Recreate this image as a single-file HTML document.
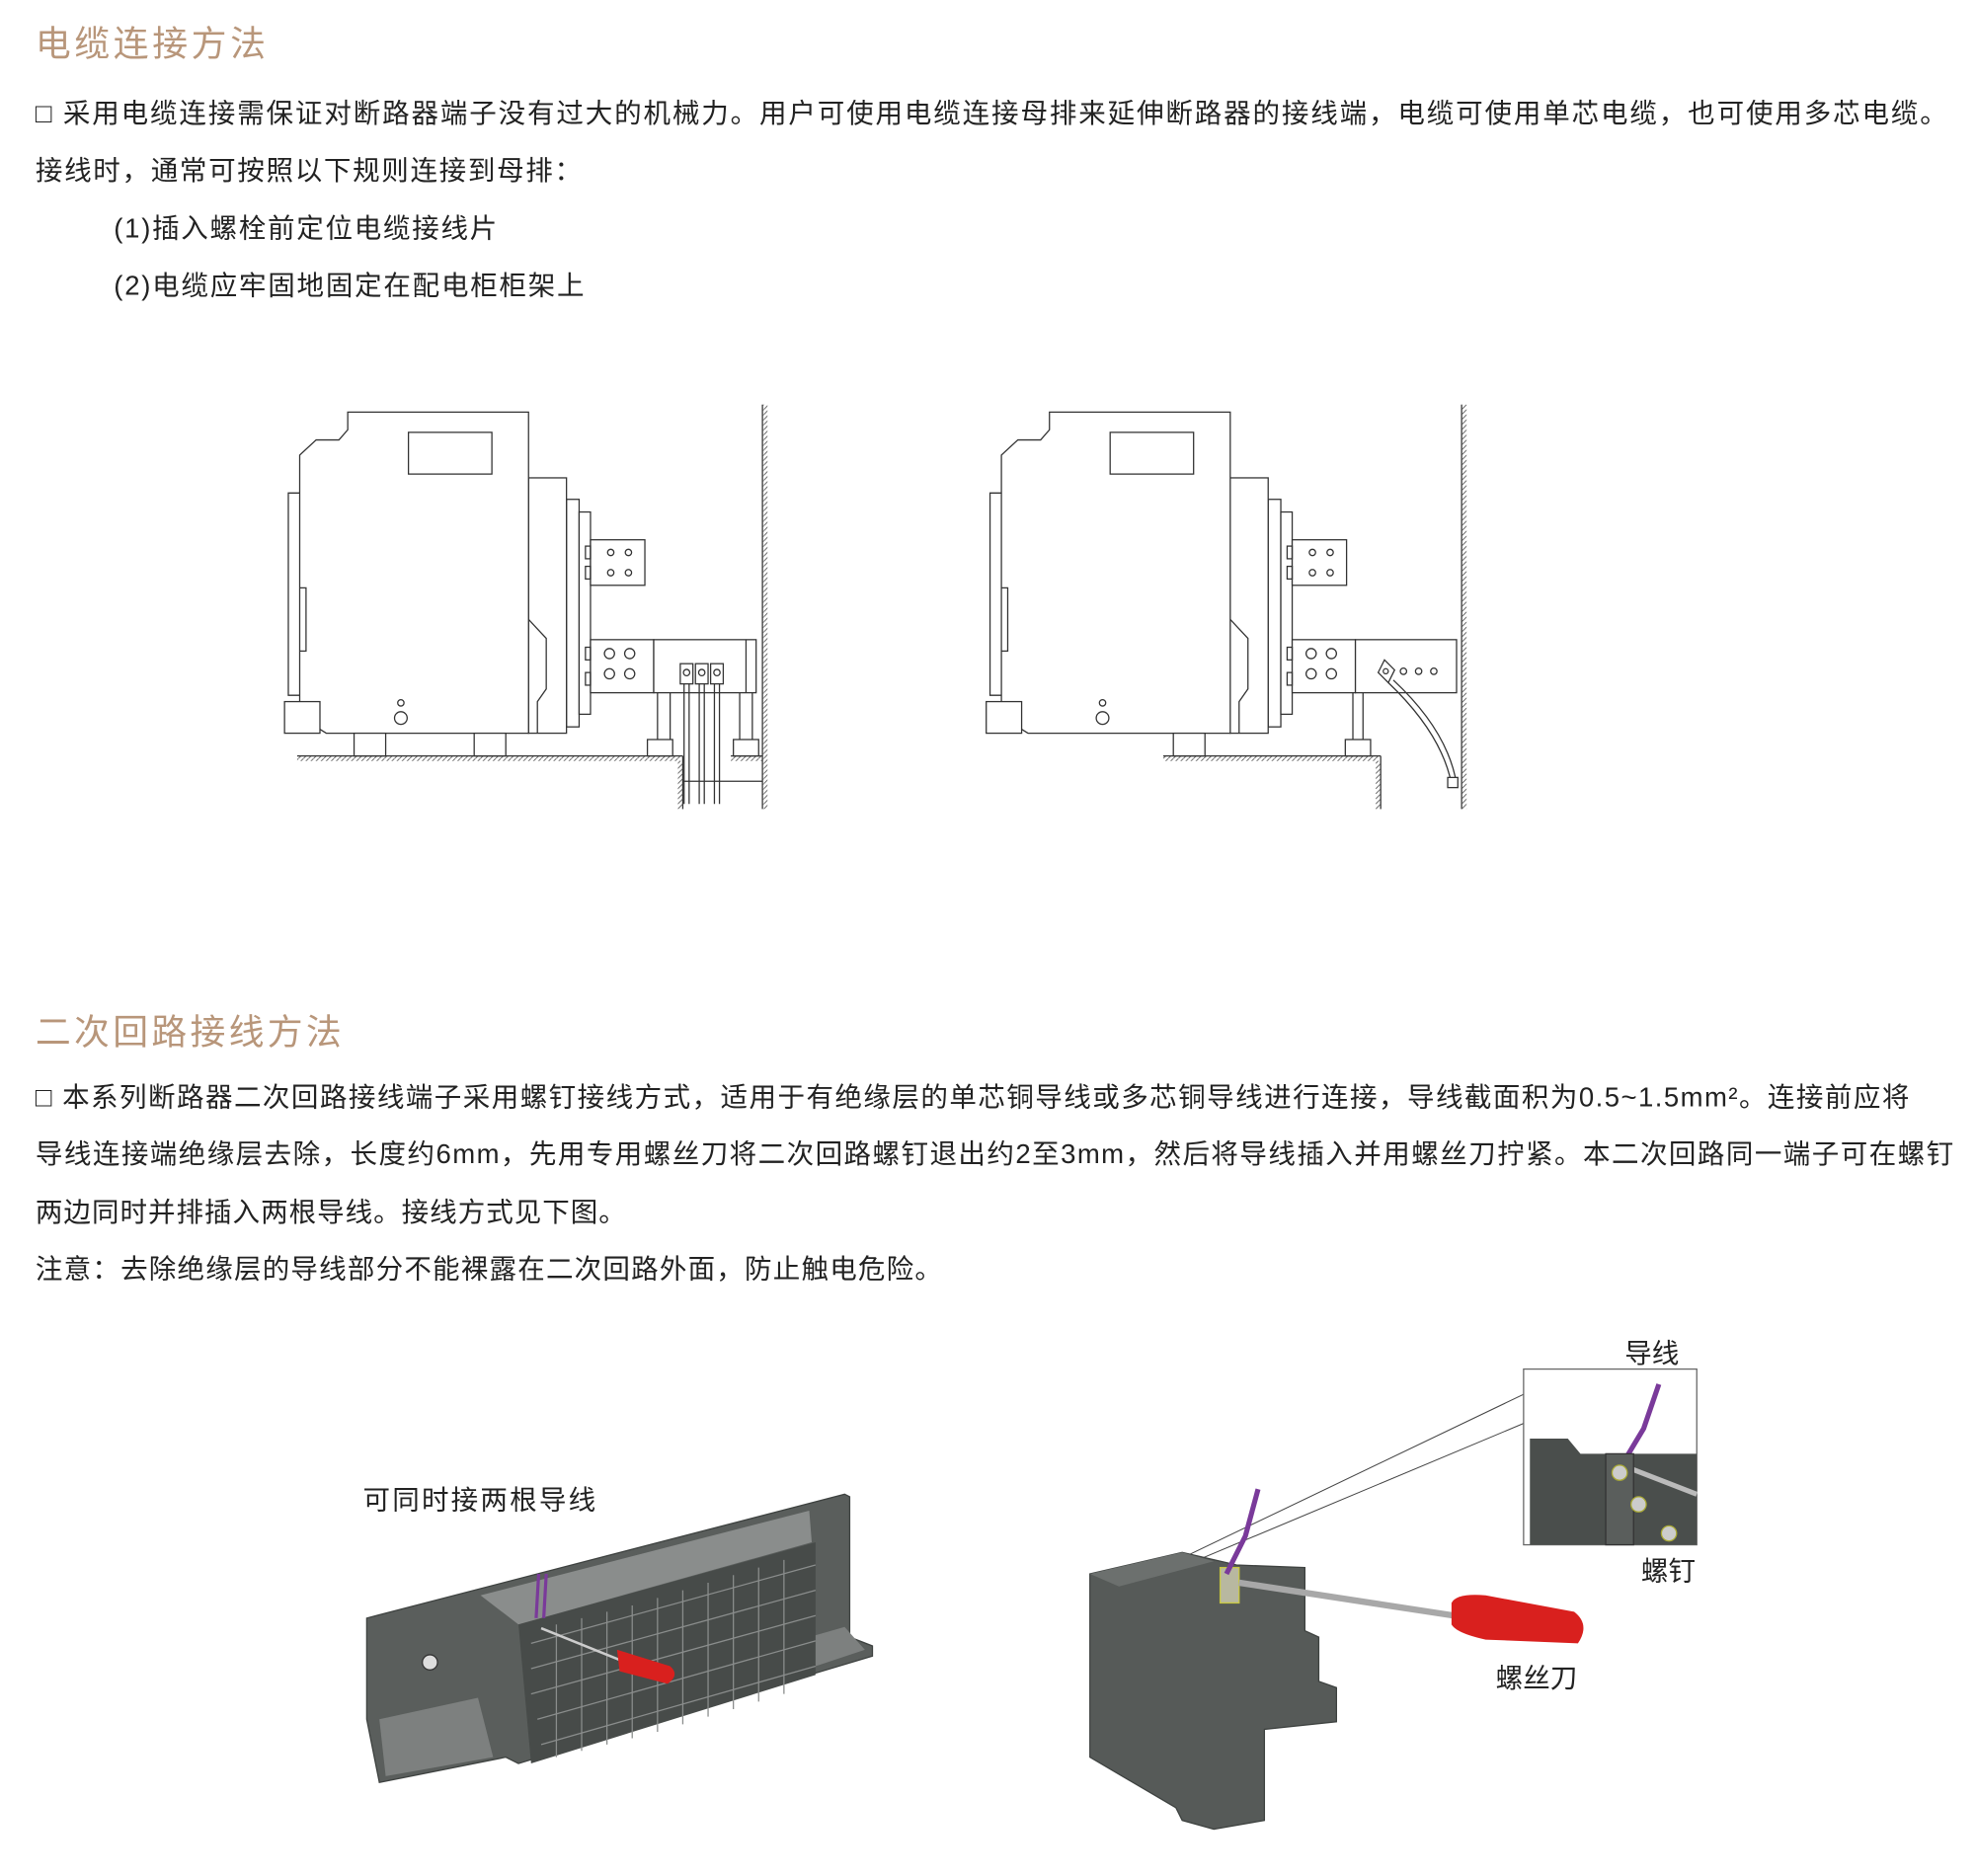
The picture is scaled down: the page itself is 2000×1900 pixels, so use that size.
<!DOCTYPE html>
<html><head><meta charset="utf-8"><style>
html,body{margin:0;padding:0;background:#fff;}
svg{display:block;}
text{font-family:"Liberation Sans","Noto Sans CJK SC",sans-serif;}
.t{fill:#222;font-size:21.5px;}
.h{fill:#b8967a;font-size:28px;}
.l{fill:none;stroke:#333;stroke-width:1;}
.lt{fill:#fff;stroke:#333;stroke-width:1;}
</style></head><body>
<svg width="2000" height="1900" viewBox="0 0 1562 1484" xmlns="http://www.w3.org/2000/svg">
<defs>
<pattern id="hat" width="4" height="4" patternUnits="userSpaceOnUse"><path d="M0 4L4 0" stroke="#555" stroke-width="0.7"/></pattern>
<g id="brk">
 <rect class="lt" x="448" y="395" width="10" height="180"/>
 <rect class="lt" x="458" y="405" width="9" height="160"/>
 <rect class="lt" x="418" y="378" width="30" height="202"/>
 <path class="lt" d="M275 326H418V580H258L250 575V555H237V360L250 348H268L275 340Z"/>
 <path class="l" d="M237 390H228V550H237M237 465H242V515H237"/>
 <path class="l" d="M418 490L432 505V545L425 555V580"/>
 <rect class="lt" x="323" y="342" width="66" height="33"/>
 <rect class="lt" x="225" y="555" width="28" height="25"/>
 <circle class="l" cx="317" cy="568" r="5"/><circle class="l" cx="317" cy="556" r="2.5"/>
 <rect class="lt" x="467" y="427" width="43" height="36"/>
 <circle class="l" cx="483" cy="437" r="2.5"/><circle class="l" cx="497" cy="437" r="2.5"/>
 <circle class="l" cx="483" cy="453" r="2.5"/><circle class="l" cx="497" cy="453" r="2.5"/>
 <rect class="lt" x="467" y="506" width="50" height="42"/>
 <circle class="l" cx="482" cy="517" r="4"/><circle class="l" cx="498" cy="517" r="4"/>
 <circle class="l" cx="482" cy="533" r="4"/><circle class="l" cx="498" cy="533" r="4"/>
 <rect class="l" x="463" y="512" width="4" height="10"/><rect class="l" x="463" y="532" width="4" height="10"/>
 <rect class="l" x="463" y="432" width="4" height="10"/><rect class="l" x="463" y="448" width="4" height="10"/>
</g>
</defs>

<text class="h" x="28" y="44" textLength="182">电缆连接方法</text>
<text class="t" x="28" y="97" textLength="1512">□ 采用电缆连接需保证对断路器端子没有过大的机械力。用户可使用电缆连接母排来延伸断路器的接线端，电缆可使用单芯电缆，也可使用多芯电缆。</text>
<text class="t" x="28" y="142" textLength="432">接线时，通常可按照以下规则连接到母排：</text>
<text class="t" x="90" y="188" textLength="303">(1)插入螺栓前定位电缆接线片</text>
<text class="t" x="90" y="233" textLength="372">(2)电缆应牢固地固定在配电柜柜架上</text>

<!-- left breaker -->
<use href="#brk"/>
<rect x="235" y="598" width="303" height="4" fill="url(#hat)"/>
<line class="l" x1="235" y1="598" x2="540" y2="598"/>
<line class="l" x1="540" y1="598" x2="540" y2="640"/>
<rect x="536" y="602" width="4" height="38" fill="url(#hat)"/>
<rect x="578" y="598" width="25" height="4" fill="url(#hat)"/>
<line class="l" x1="578" y1="598" x2="603" y2="598"/>
<line class="l" x1="603" y1="320" x2="603" y2="640"/>
<rect x="603" y="320" width="4" height="320" fill="url(#hat)"/>
<rect class="lt" x="517" y="506" width="81" height="42"/>
<line class="l" x1="590" y1="506" x2="590" y2="548"/>
<rect class="lt" x="280" y="580" width="25" height="18"/><rect class="lt" x="375" y="580" width="25" height="18"/>
<line class="l" x1="520" y1="548" x2="520" y2="585"/><line class="l" x1="530" y1="548" x2="530" y2="585"/>
<rect class="lt" x="512" y="585" width="20" height="13"/>
<line class="l" x1="585" y1="548" x2="585" y2="585"/><line class="l" x1="595" y1="548" x2="595" y2="585"/>
<rect class="lt" x="580" y="585" width="20" height="13"/>
<g class="l">
<rect x="538" y="525" width="10" height="16"/><rect x="550" y="525" width="10" height="16"/><rect x="562" y="525" width="10" height="16"/>
<circle cx="543" cy="532" r="2.5"/><circle cx="555" cy="532" r="2.5"/><circle cx="567" cy="532" r="2.5"/>
<path d="M541 541V636M545 541V636M553 541V636M557 541V636M565 541V636M569 541V636"/>
<line x1="540" y1="618" x2="603" y2="618"/>
</g>

<!-- right breaker -->
<use href="#brk" transform="translate(555,0)"/>
<rect x="920" y="598" width="170" height="4" fill="url(#hat)"/>
<line class="l" x1="920" y1="598" x2="1092" y2="598"/>
<line class="l" x1="1092" y1="598" x2="1092" y2="640"/>
<rect x="1088" y="602" width="4" height="38" fill="url(#hat)"/>
<line class="l" x1="1156" y1="320" x2="1156" y2="640"/>
<rect x="1156" y="320" width="4" height="320" fill="url(#hat)"/>
<rect class="lt" x="1072" y="506" width="80" height="42"/>
<rect class="lt" x="928" y="580" width="25" height="18"/>
<line class="l" x1="1070" y1="548" x2="1070" y2="585"/><line class="l" x1="1078" y1="548" x2="1078" y2="585"/>
<rect class="lt" x="1064" y="585" width="20" height="13"/>
<path class="l" d="M1095 522L1103 530L1098 540L1090 532Z"/>
<circle class="l" cx="1096" cy="531" r="2"/><circle class="l" cx="1110" cy="531" r="2.5"/><circle class="l" cx="1122" cy="531" r="2.5"/><circle class="l" cx="1134" cy="531" r="2.5"/>
<path class="l" d="M1098 540Q1140 580 1148 620M1102 538Q1145 578 1152 620"/>
<rect class="lt" x="1145" y="615" width="8" height="8"/>

<text class="h" x="28" y="826" textLength="242">二次回路接线方法</text>
<text class="t" x="28" y="875" textLength="1482">□ 本系列断路器二次回路接线端子采用螺钉接线方式，适用于有绝缘层的单芯铜导线或多芯铜导线进行连接，导线截面积为0.5~1.5mm²。连接前应将</text>
<text class="t" x="28" y="920" textLength="1517">导线连接端绝缘层去除，长度约6mm，先用专用螺丝刀将二次回路螺钉退出约2至3mm，然后将导线插入并用螺丝刀拧紧。本二次回路同一端子可在螺钉</text>
<text class="t" x="28" y="966" textLength="467">两边同时并排插入两根导线。接线方式见下图。</text>
<text class="t" x="28" y="1011" textLength="717">注意：去除绝缘层的导线部分不能裸露在二次回路外面，防止触电危险。</text>

<!-- left terminal block -->
<text class="t" x="287" y="1194" textLength="184">可同时接两根导线</text>
<path fill="#5a5e5c" stroke="#3e4240" d="M290 1280L668 1182L672 1184V1295L690 1302V1310L640 1325L410 1395L400 1390L300 1410L290 1360Z"/>
<path fill="#7d807f" d="M300 1360L378 1343L390 1390L305 1405Z"/>
<path fill="#7d807f" d="M640 1295L668 1287L684 1305L645 1318Z"/>
<path fill="#8a8d8c" d="M380 1262L640 1195L642 1220L410 1285Z"/>
<path fill="#474b49" d="M410 1285L645 1220V1325L420 1395Z"/>
<g stroke="#8a8d8c" stroke-width="1" fill="none">
<path d="M420 1300L645 1238M420 1320L645 1258M420 1340L645 1278M425 1360L645 1298M428 1380L645 1318"/>
<path d="M440 1285V1390M460 1280V1385M480 1275V1380M500 1270V1375M520 1264V1370M540 1258V1364M560 1252V1358M580 1246V1352M600 1240V1346M620 1234V1340"/>
</g>
<circle cx="340" cy="1315" r="6" fill="#ddd" stroke="#333"/>
<path d="M426 1245L424 1280M432 1245L430 1280" stroke="#7a3a9a" stroke-width="2.5"/>
<line x1="428" y1="1288" x2="495" y2="1315" stroke="#ccc" stroke-width="2"/>
<path d="M488 1305L530 1318Q538 1325 528 1332L490 1322Z" fill="#d9201e"/>

<!-- right terminal -->
<line x1="1205" y1="1103" x2="940" y2="1230" stroke="#444" stroke-width="0.8"/>
<line x1="1205" y1="1126" x2="945" y2="1235" stroke="#444" stroke-width="0.8"/>
<path fill="#565a58" stroke="#3e4240" d="M862 1245L935 1228L978 1238L1032 1240V1290L1043 1295V1330L1057 1335V1362L1000 1368V1440L960 1447L935 1440L930 1430L862 1390Z"/>
<path fill="#6c706e" d="M862 1245L935 1228L960 1235L885 1255Z"/>
<rect x="965" y="1240" width="15" height="28" fill="#b8b8a0" stroke="#c8c840"/>
<path d="M995 1178L985 1215L970 1245" stroke="#7a3a9a" stroke-width="4" fill="none"/>
<line x1="980" y1="1252" x2="1150" y2="1278" stroke="#a8a8a8" stroke-width="5"/>
<path d="M1148 1268Q1152 1260 1175 1262L1245 1275Q1258 1285 1248 1300L1175 1297Q1152 1292 1148 1285Z" fill="#d9201e"/>
<rect x="1205" y="1083" width="137" height="139" fill="#fff" stroke="#666"/>
<path d="M1210 1138H1240L1250 1150H1342V1222H1210Z" fill="#4a4e4c"/>
<line x1="1280" y1="1158" x2="1342" y2="1182" stroke="#bbb" stroke-width="4"/>
<path d="M1312 1095L1300 1130L1285 1155" stroke="#7a3a9a" stroke-width="4" fill="none"/>
<rect x="1270" y="1150" width="22" height="72" fill="#5a5e5c" stroke="#333"/>
<circle cx="1281" cy="1165" r="6" fill="#ccc" stroke="#aa3"/>
<circle cx="1296" cy="1190" r="6" fill="#ccc" stroke="#aa3"/>
<circle cx="1320" cy="1213" r="6" fill="#ccc" stroke="#aa3"/>
<text class="t" x="1285" y="1078">导线</text>
<text class="t" x="1298" y="1250">螺钉</text>
<text class="t" x="1183" y="1335">螺丝刀</text>
</svg>
</body></html>
